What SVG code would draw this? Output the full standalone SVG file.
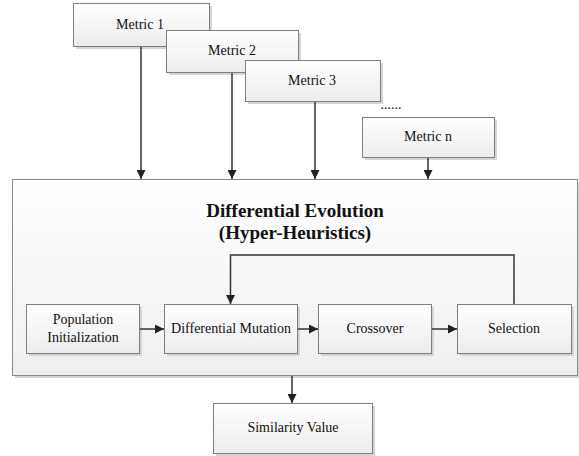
<svg xmlns="http://www.w3.org/2000/svg" width="579" height="456" viewBox="0 0 579 456">
<defs>
<linearGradient id="g" x1="0" y1="0" x2="0" y2="1"><stop offset="0" stop-color="#ffffff"/><stop offset="1" stop-color="#ececec"/></linearGradient>
<linearGradient id="gm" x1="0" y1="0" x2="0" y2="1"><stop offset="0" stop-color="#ffffff"/><stop offset="1" stop-color="#efefef"/></linearGradient>
<marker id="a" viewBox="0 0 10 10" refX="10" refY="5" markerWidth="9" markerHeight="9" markerUnits="userSpaceOnUse" orient="auto"><path d="M0,0 L10,5 L0,10 z" fill="#222"/></marker>
</defs>
<style>
.box{fill:url(#g);stroke:#7f7f7f;stroke-width:1}
.sh{fill:#d4d4d4}
.t{font-family:"Liberation Serif","Times New Roman",serif;font-size:14px;fill:#111;text-anchor:middle}
.tb{font-family:"Liberation Serif","Times New Roman",serif;font-size:19px;font-weight:bold;fill:#111;text-anchor:middle}
.c{fill:none;stroke:#333;stroke-width:1.5}
</style>
<g id="main">
<rect class="sh" x="15" y="182" width="565" height="196"/>
<rect x="12.5" y="179.5" width="565" height="196" fill="url(#gm)" stroke="#8a8a8a"/>
<text class="tb" x="295" y="217">Differential Evolution</text>
<text class="tb" x="295" y="239">(Hyper-Heuristics)</text>
</g>
<g id="metric1"><rect class="sh" x="76" y="6" width="136" height="43"/><rect class="box" x="73.5" y="3.5" width="136" height="43"/><text class="t" x="140" y="29">Metric 1</text></g>
<g id="metric2"><rect class="sh" x="169" y="33" width="132" height="42"/><rect class="box" x="166.5" y="30.5" width="132" height="42"/><text class="t" x="232" y="55">Metric 2</text></g>
<g id="metric3"><rect class="sh" x="248" y="63" width="135" height="41"/><rect class="box" x="245.5" y="60.5" width="135" height="41"/><text class="t" x="312" y="85">Metric 3</text></g>
<text class="t" x="391" y="109">......</text>
<g id="metricn"><rect class="sh" x="365" y="120" width="132" height="40"/><rect class="box" x="362.5" y="117.5" width="132" height="40"/><text class="t" x="428" y="141">Metric n</text></g>
<g id="pop"><rect class="sh" x="29" y="307" width="113" height="49"/><rect class="box" x="26.5" y="304.5" width="113" height="49"/><text class="t" x="83" y="324">Population</text><text class="t" x="83" y="342">Initialization</text></g>
<g id="mut"><rect class="sh" x="167" y="307" width="133" height="49"/><rect class="box" x="164.5" y="304.5" width="133" height="49"/><text class="t" x="231" y="333">Differential Mutation</text></g>
<g id="cross"><rect class="sh" x="321" y="307" width="113" height="49"/><rect class="box" x="318.5" y="304.5" width="113" height="49"/><text class="t" x="375" y="333">Crossover</text></g>
<g id="sel"><rect class="sh" x="460" y="307" width="114" height="49"/><rect class="box" x="457.5" y="304.5" width="114" height="49"/><text class="t" x="514" y="333">Selection</text></g>
<g id="sim"><rect class="sh" x="216" y="406" width="159" height="50"/><rect class="box" x="213.5" y="403.5" width="159" height="50"/><text class="t" x="293" y="432">Similarity Value</text></g>
<g id="connectors">
<path class="c" d="M141,47 V179" marker-end="url(#a)"/>
<path class="c" d="M232,73 V179" marker-end="url(#a)"/>
<path class="c" d="M315,102 V179" marker-end="url(#a)"/>
<path class="c" d="M428,158 V179" marker-end="url(#a)"/>
<path class="c" d="M140,329 H164" marker-end="url(#a)"/>
<path class="c" d="M298,329 H318" marker-end="url(#a)"/>
<path class="c" d="M432,329 H457" marker-end="url(#a)"/>
<path class="c" d="M514,304 V255 H230.5 V304" marker-end="url(#a)"/>
<path class="c" d="M292,376 V403" marker-end="url(#a)"/>
</g>
</svg>
